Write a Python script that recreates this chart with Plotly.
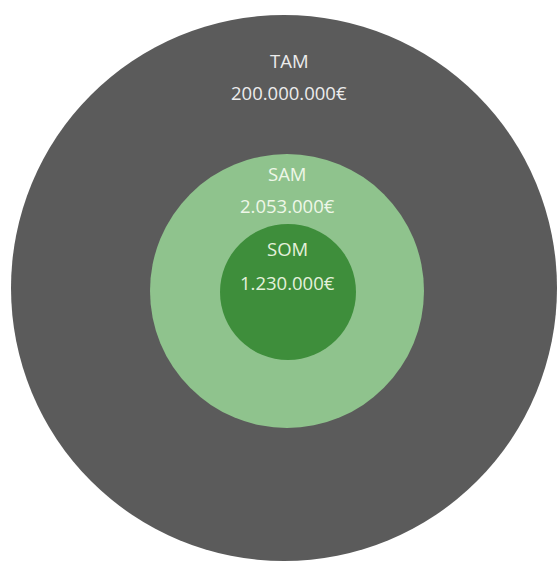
import plotly.graph_objects as go

# ---- data ----
categories = ["TAM", "SAM", "SOM"]
values = ["200.000.000€", "2.053.000€", "1.230.000€"]

# ---- layout / style (pixel-like coordinate space) ----
W, H = 557, 563
centers = [(284, 288), (287, 291), (288, 292)]
radii = [273, 137, 68]
fills = ["#5b5b5b", "#8fc38d", "#3e8e3b"]
label_y = [(60, 92), (173, 205), (248, 282)]
label_x = [289, 287, 287]
text_colors = ["#ececec", "#eef7e8", "#e4f1dc"]
font_size = 18.5

fig = go.Figure()
fig.add_trace(go.Scatter(x=[0, W], y=[0, H], mode="markers",
                         marker=dict(opacity=0), hoverinfo="skip", showlegend=False))

for (cx, cy), r, c in zip(centers, radii, fills):
    fig.add_shape(type="circle", xref="x", yref="y",
                  x0=cx - r, x1=cx + r, y0=cy - r, y1=cy + r,
                  fillcolor=c, line=dict(width=0), layer="below")

for name, val, (y1, y2), x, tc in zip(categories, values, label_y, label_x, text_colors):
    fig.add_annotation(x=x, y=y1, text=name, showarrow=False,
                       font=dict(family="Open Sans", size=font_size, color=tc),
                       xanchor="center", yanchor="middle")
    fig.add_annotation(x=x, y=y2, text=val, showarrow=False,
                       font=dict(family="Open Sans", size=font_size, color=tc),
                       xanchor="center", yanchor="middle")

fig.update_layout(
    width=W, height=H,
    margin=dict(l=0, r=0, t=0, b=0),
    paper_bgcolor="white", plot_bgcolor="white",
    xaxis=dict(range=[0, W], visible=False, fixedrange=True),
    yaxis=dict(range=[H, 0], visible=False, fixedrange=True),
    showlegend=False,
)

fig.write_html("out.html", config={"displayModeBar": False})
